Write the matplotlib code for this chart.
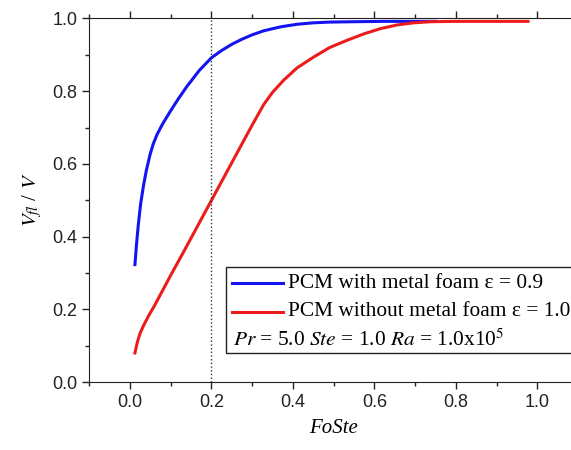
import matplotlib
matplotlib.use('Agg')
import matplotlib.pyplot as plt
from matplotlib.patches import Rectangle
from matplotlib.ticker import MultipleLocator

# liquid fraction vs FoSte
foam_x = [0.012, 0.016, 0.02, 0.026, 0.033, 0.04, 0.049, 0.057, 0.066, 0.08, 0.098, 0.118,
          0.139, 0.17, 0.2, 0.225, 0.25, 0.275, 0.3, 0.328, 0.37, 0.41, 0.45, 0.49,
          0.55, 0.62, 0.69, 0.75]
foam_y = [0.323, 0.38, 0.429, 0.49, 0.54, 0.582, 0.625, 0.655, 0.68, 0.71, 0.743, 0.778,
          0.812, 0.857, 0.892, 0.912, 0.929, 0.943, 0.955, 0.966, 0.977, 0.984, 0.988, 0.990,
          0.991, 0.992, 0.992, 0.992]

pure_x = [0.012, 0.018, 0.025, 0.033, 0.045, 0.06, 0.08, 0.1, 0.13, 0.16, 0.2, 0.24,
          0.27, 0.3, 0.328, 0.35, 0.377, 0.41, 0.451, 0.49, 0.533, 0.575, 0.615, 0.655,
          0.696, 0.738, 0.8, 0.9, 0.977]
pure_y = [0.08, 0.11, 0.135, 0.155, 0.181, 0.21, 0.252, 0.294, 0.355, 0.417, 0.5, 0.583,
          0.645, 0.707, 0.763, 0.797, 0.83, 0.864, 0.894, 0.92, 0.94, 0.958, 0.972, 0.982,
          0.988, 0.991, 0.992, 0.992, 0.992]

labels = ['PCM with metal foam \u03b5 = 0.9', 'PCM without metal foam \u03b5 = 1.0']
params = r'$Pr$ = 5.0 $Ste$ = 1.0 $Ra$ = 1.0x10$^5$'

plt.rcParams['font.family'] = 'Liberation Serif'
plt.rcParams['mathtext.fontset'] = 'stix'

fig = plt.figure(figsize=(5.71, 4.5), dpi=100)
ax = fig.add_axes([0.1564, 0.151, 0.856, 0.808])

ax.plot(foam_x, foam_y, color='#1414f0', lw=2.2)
ax.plot(pure_x, pure_y, color='#ec1c1c', lw=2.2)
ax.axvline(0.2, color='#333333', ls=':', lw=1.0)

ax.set_xlim(-0.1, 1.1)
ax.set_ylim(0, 1.0)
ax.xaxis.set_minor_locator(MultipleLocator(0.1))
ax.yaxis.set_major_locator(MultipleLocator(0.2))
ax.yaxis.set_minor_locator(MultipleLocator(0.1))
ax.set_xticks([0, 0.2, 0.4, 0.6, 0.8, 1.0])
ax.tick_params(which='both', direction='out', top=True, labeltop=False, right=False,
               labelsize=13, colors='#222222', width=1)
ax.tick_params(which='major', length=5)
ax.tick_params(which='minor', length=3)
for lab in ax.get_xticklabels() + ax.get_yticklabels():
    lab.set_fontfamily('Liberation Sans')
ax.spines['right'].set_visible(False)
for s in ['left', 'bottom', 'top']:
    ax.spines[s].set_color('#222222')

ax.set_xlabel('FoSte', fontsize=15, style='italic', labelpad=6)
ax.set_ylabel(r'$V_{fl}$ / $V$', fontsize=15, labelpad=6)

# legend box, drawn by hand because the last row has no line sample
ax.add_patch(Rectangle((0.28, 0.08), 0.75, 0.236, transform=ax.transAxes,
                       fill=True, facecolor='white', edgecolor='#222222', lw=1.0, clip_on=False))
ax.plot([0.292, 0.396], [0.272, 0.272], transform=ax.transAxes, color='#1414f0', lw=2.2)
ax.plot([0.292, 0.396], [0.193, 0.193], transform=ax.transAxes, color='#ec1c1c', lw=2.2)
ax.text(0.406, 0.272, labels[0], transform=ax.transAxes, va='center', fontsize=15.4)
ax.text(0.406, 0.193, labels[1], transform=ax.transAxes, va='center', fontsize=15.4)
ax.text(0.294, 0.116, params, transform=ax.transAxes, va='center', fontsize=15.4)

fig.savefig('out.png', dpi=100)
